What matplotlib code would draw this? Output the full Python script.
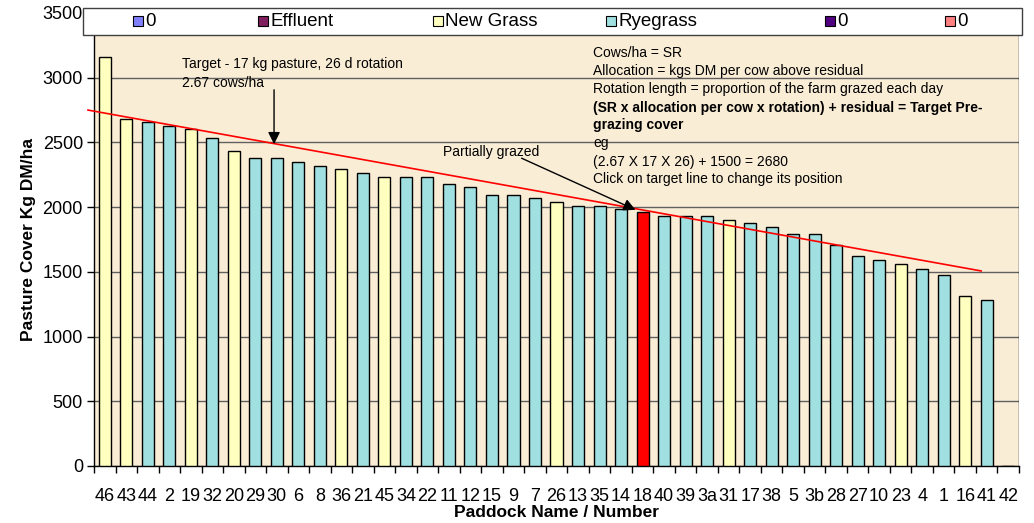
import numpy as np
import matplotlib.pyplot as plt
from matplotlib.patches import Rectangle

plt.rcParams['font.family'] = ['Liberation Sans', 'DejaVu Sans']

# Данные: паддоки, покрытие пастбища и тип травы
paddocks = ['46', '43', '44', '2', '19', '32', '20', '29', '30', '6', '8', '36', '21', '45',
            '34', '22', '11', '12', '15', '9', '7', '26', '13', '35', '14', '18', '40', '39',
            '3a', '31', '17', '38', '5', '3b', '28', '27', '10', '23', '4', '1', '16', '41', '42']
cover = [3160, 2680, 2655, 2625, 2600, 2535, 2435, 2380, 2380, 2350, 2320, 2295, 2265, 2235,
         2235, 2235, 2180, 2155, 2095, 2095, 2070, 2040, 2010, 2010, 1985, 1960, 1930, 1930,
         1930, 1900, 1875, 1845, 1790, 1790, 1705, 1620, 1590, 1560, 1520, 1475, 1310, 1280, 0]
grass = ['N', 'N', 'R', 'R', 'N', 'R', 'N', 'R', 'R', 'R', 'R', 'N', 'R', 'N',
         'R', 'R', 'R', 'R', 'R', 'R', 'R', 'N', 'R', 'R', 'R', 'P', 'R', 'R',
         'R', 'N', 'R', 'R', 'R', 'R', 'R', 'R', 'R', 'N', 'R', 'R', 'N', 'R', 'R']

# Целевая линия (начало и конец)
target_x = [-0.78, 40.74]
target_y = [2750, 1507]

legend_labels = ['0', 'Effluent', 'New Grass', 'Ryegrass', '0', '0']
legend_colors = ['#8080FF', '#7F1F5F', '#FFFFC0', '#A0E0E0', '#500080', '#FF8080']

colors = {'N': '#FFFFC0', 'R': '#A0E0E0', 'P': '#FF0000'}

fig = plt.figure(figsize=(10.34, 5.23), dpi=100)
ax = fig.add_axes([94 / 1034, 1 - 466 / 523, 925 / 1034, 453 / 523])
ax.set_facecolor('#FAEDD6')

x = np.arange(len(paddocks))
ax.bar(x, cover, width=0.56, color=[colors[g] for g in grass],
       edgecolor='black', linewidth=1.0, zorder=3)

ax.set_xlim(-0.5, len(paddocks) - 0.5)
ax.set_ylim(0, 3500)
ax.set_yticks(np.arange(0, 3501, 500))
ax.yaxis.grid(True, color='#606060', linewidth=1.0, zorder=1)
ax.set_axisbelow(True)

# подписи по центру, засечки на границах
ax.set_xticks(x)
ax.set_xticklabels(paddocks)
ax.set_xticks(np.arange(-0.5, len(paddocks), 1), minor=True)
ax.tick_params(axis='x', which='major', length=0, pad=16, labelsize=13)
ax.tick_params(axis='x', which='minor', length=5, width=1, direction='out')
ax.tick_params(axis='y', length=5, width=1, direction='out', labelsize=13, pad=3)

for s in ['top', 'right']:
    ax.spines[s].set_visible(False)
ax.spines['left'].set_linewidth(1.0)
ax.spines['bottom'].set_linewidth(1.0)
ax.plot([1, 1], [0, 1], transform=ax.transAxes, color='black', linewidth=1.0, zorder=5)

ax.set_xlabel('Paddock Name / Number', fontsize=12.5, fontweight='bold')
ax.xaxis.set_label_coords(0.5, -0.085)
ax.set_ylabel('Pasture Cover Kg DM/ha', fontsize=12.5, fontweight='bold', labelpad=5)

# целевая линия
ax.plot(target_x, target_y, color='#FF0000', linewidth=1.2, zorder=4, clip_on=False)

# аннотации
ax.text(3.59, 3106, 'Target - 17 kg pasture, 26 d rotation', fontsize=10, va='center', zorder=6)
ax.text(3.59, 2959, '2.67 cows/ha', fontsize=10, va='center', zorder=6)
ax.annotate('', xy=(7.87, 2465), xytext=(7.87, 2928),
            arrowprops=dict(arrowstyle='-|>', color='black', lw=1, mutation_scale=18), zorder=6)

ax.text(15.72, 2428, 'Partially grazed', fontsize=10, va='center', zorder=6)
ax.annotate('', xy=(24.79, 1970), xytext=(19.26, 2387),
            arrowprops=dict(arrowstyle='-|>', color='black', lw=1, mutation_scale=18), zorder=6)

lines = [('Cows/ha = SR', 'normal', 3193),
         ('Allocation = kgs DM per cow above residual', 'normal', 3054),
         ('Rotation length = proportion of the farm grazed each day', 'normal', 2915),
         ('(SR x allocation per cow x rotation) + residual = Target Pre-', 'bold', 2768),
         ('grazing cover', 'bold', 2632),
         ('eg', 'normal', 2495),
         ('(2.67 X 17 X 26) + 1500 = 2680', 'normal', 2351),
         ('Click on target line to change its position', 'normal', 2217)]
for txt, w, yv in lines:
    ax.text(22.7, yv, txt, fontsize=10, fontweight=w, va='center', zorder=6)

# легенда сверху
fig.add_artist(Rectangle((83 / 1034, 1 - 35 / 523), 939 / 1034, 27 / 523,
                         transform=fig.transFigure, facecolor='white',
                         edgecolor='#404040', linewidth=1, zorder=10))
legend_px = [133, 258, 433, 606, 825, 945]
for px, lab, c in zip(legend_px, legend_labels, legend_colors):
    fig.add_artist(Rectangle((px / 1034, 1 - 26 / 523), 10 / 1034, 10 / 523,
                             transform=fig.transFigure, facecolor=c,
                             edgecolor='black', linewidth=0.8, zorder=11))
    fig.text((px + 12) / 1034, 1 - 21 / 523, lab, fontsize=13.5, va='center', zorder=12)

fig.savefig('out.png', dpi=100)
